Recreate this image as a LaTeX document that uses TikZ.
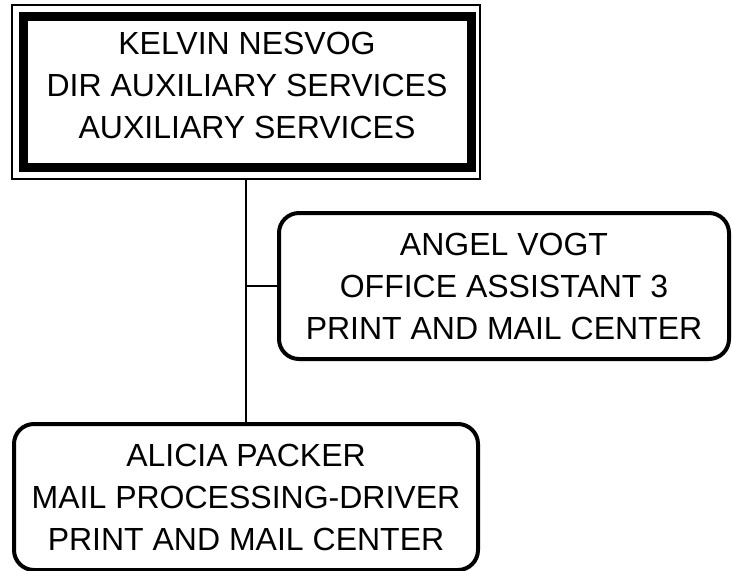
\documentclass[tikz,border=0pt]{standalone}
\usepackage{fontspec}
\setmainfont{Liberation Sans}

\begin{document}
\begin{tikzpicture}[
			x=1pt, y=-1pt,
			font=\fontsize{32}{42}\selectfont,
			headbox/.style={
				draw,
				line width=9pt,
				align=center,
				inner sep=0pt,
				text depth=14pt,
				minimum width=448pt,
				minimum height=151pt
			},
			headframe/.style={
				draw,
				line width=1.5pt,
				inner sep=0pt,
				minimum width=468pt,
				minimum height=174pt
			},
			staffbox/.style={
				draw,
				line width=4pt,
				rounded corners=20pt,
				align=center,
				inner sep=0pt,
				minimum height=146pt
			},
			link/.style={
				line width=1.5pt
			}
			]

			\useasboundingbox (0,0) rectangle (732,571);

			% Director
			\node[headframe] (kelvinframe) at (246,92) {};
			\node[headbox] (kelvin) at (247,92)
			{KELVIN NESVOG\\DIR AUXILIARY SERVICES\\AUXILIARY SERVICES};

			% Staff
			\node[staffbox, minimum width=450pt] (angel) at (504,286)
			{ANGEL VOGT\\OFFICE ASSISTANT 3\\PRINT AND MAIL CENTER};
			\node[staffbox, minimum width=464pt] (alicia) at (246,497)
			{ALICIA PACKER\\MAIL PROCESSING-DRIVER\\PRINT AND MAIL CENTER};

			% Connections
			\draw[link] (kelvinframe.south) -- (kelvinframe.south |- alicia.north);
			\draw[link] (angel.west) -- (angel.west -| kelvinframe.south);

		\end{tikzpicture}
\end{document}
